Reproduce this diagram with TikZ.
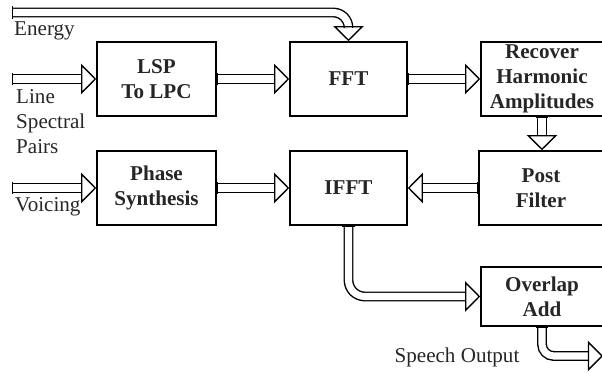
\documentclass[tikz,border=0pt]{standalone}
\usepackage{fontspec}
\setmainfont{Liberation Serif}
\usetikzlibrary{arrows.meta}

\begin{document}
\begin{tikzpicture}[x=0.03cm, y=-0.03cm,
	block/.style={draw, line width=1.3pt, inner sep=0pt, minimum height=2.22cm, align=center, text=black!85, font=\fontsize{18}{21.3}\selectfont\bfseries},
	hollow/.style={double, line width=1.2pt, double distance=6pt, {Bar[width=11pt,line width=1.2pt]}-{Triangle[open, width=26pt, length=13pt, line width=1.2pt]}},
	lbl/.style={inner sep=0pt, text=black!85, font=\fontsize{18}{21.3}\selectfont}]
	\useasboundingbox (0,0) rectangle (602,373);
	\clip (0,0) rectangle (602,373);
	\node[block, minimum width=3.57cm] (lsp) at (156.5,79) {LSP\\To LPC};
	\node[block, minimum width=3.51cm] (fft) at (348.5,79) {FFT};
	\node[block, minimum width=3.66cm] (rec) at (542,79) {Recover\\Harmonic\\Amplitudes};
	\node[block, minimum width=3.57cm] (phase) at (156.5,188) {Phase\\Synthesis};
	\node[block, minimum width=3.51cm] (ifft) at (348.5,188) {IFFT};
	\node[block, minimum width=3.72cm] (post) at (541,188) {Post\\Filter};
	\node[block, minimum width=3.66cm, minimum height=1.77cm] (ovl) at (542,296.5) {Overlap\\Add};
	\coordinate (energy) at (12,12.5);
	\coordinate (lspin) at (12,79);
	\coordinate (voice) at (12,188);
	\coordinate (out) at (603,356);
	\node[lbl, anchor=west] (energylbl) at (14,31) {Energy};
	\node[lbl, anchor=west, align=left] (lsplbl) at (16,122) {Line\\Spectral\\Pairs};
	\node[lbl, anchor=west] (voicelbl) at (15,207) {Voicing};
	\node[lbl] (speech) at (457,357) {Speech Output};
	\draw[hollow, rounded corners=13pt] (energy) -| (fft.north);
	\draw[hollow] (lspin) -- (lsp.west);
	\draw[hollow] (lsp.east) -- (fft.west);
	\draw[hollow] (fft.east) -- (rec.west);
	\draw[hollow] (rec.south) -- (rec.south |- post.north);
	\draw[hollow] (post.west) -- (ifft.east);
	\draw[hollow] (voice) -- (phase.west);
	\draw[hollow] (phase.east) -- (ifft.west);
	\draw[hollow, rounded corners=14pt] (ifft.south) |- (ovl.west);
	\draw[hollow, rounded corners=10pt] (ovl.south) |- (out);
\end{tikzpicture}
\end{document}
